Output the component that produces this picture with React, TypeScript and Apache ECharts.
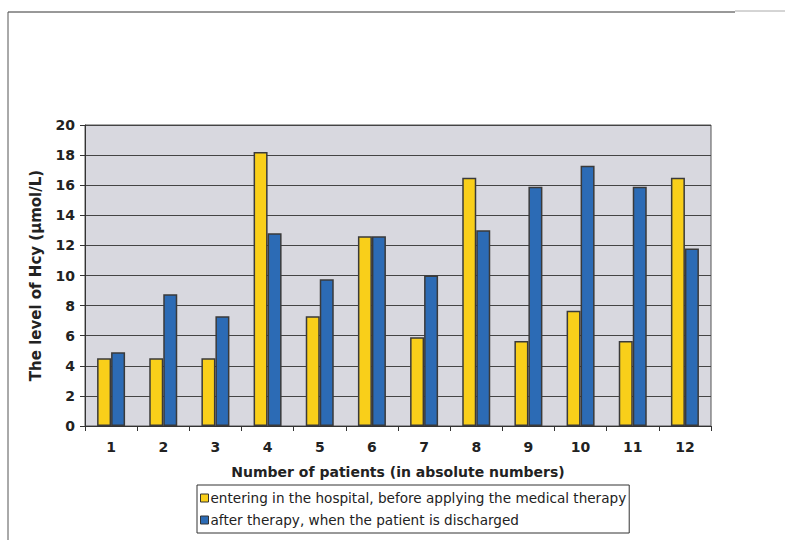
import React, { useEffect, useRef } from "react";
import * as echarts from "echarts";

const categories = ["1", "2", "3", "4", "5", "6", "7", "8", "9", "10", "11", "12"];
const beforeTherapy = [4.5, 4.5, 4.5, 18.2, 7.3, 12.6, 5.9, 16.5, 5.65, 7.65, 5.65, 16.5];
const afterTherapy = [4.9, 8.75, 7.3, 12.8, 9.75, 12.6, 10.0, 13.0, 15.9, 17.3, 15.9, 11.8];
const seriesNames = [
  "entering in the hospital, before applying the medical therapy",
  "after therapy, when the patient is discharged",
];
const yTicks = { min: 0, max: 20, interval: 2 };

export default function App() {
  const ref = useRef<HTMLDivElement>(null);
  useEffect(() => {
    if (!ref.current) return;
    const chart = echarts.init(ref.current, undefined, { renderer: "svg" });
    const font = "'DejaVu Sans', Arial, sans-serif";
    const barBorder = { borderColor: "#3a3a3a", borderWidth: 1.5 };
    chart.setOption({
      animation: false,
      backgroundColor: "#ffffff",
      textStyle: { fontFamily: font },
      graphic: [
        { type: "line", shape: { x1: 8, y1: 12, x2: 735, y2: 12 }, style: { stroke: "#333", lineWidth: 1 } },
        { type: "line", shape: { x1: 735, y1: 11, x2: 785, y2: 11 }, style: { stroke: "#aaa", lineWidth: 1 } },
        { type: "line", shape: { x1: 8, y1: 12, x2: 8, y2: 540 }, style: { stroke: "#555", lineWidth: 1 } },
      ],
      grid: {
        left: 85,
        top: 125,
        width: 626,
        height: 301,
        show: true,
        backgroundColor: "#d8d8df",
        borderColor: "#555",
        borderWidth: 1,
      },
      legend: {
        orient: "vertical",
        left: 197,
        top: 485,
        itemWidth: 8,
        itemHeight: 8,
        itemGap: 8,
        padding: [6, 3, 6, 3],
        borderColor: "#333",
        borderWidth: 1,
        backgroundColor: "#ffffff",
        icon: "rect",
        textStyle: { fontFamily: font, fontSize: 13.6, color: "#222", padding: [0, 0, 0, -3] },
        data: [
          { name: seriesNames[0], itemStyle: { color: "#f9cf1a", borderColor: "#333", borderWidth: 1 } },
          { name: seriesNames[1], itemStyle: { color: "#2c6bb5", borderColor: "#333", borderWidth: 1 } },
        ],
      },
      xAxis: {
        type: "category",
        data: categories,
        name: "Number of patients (in absolute numbers)",
        nameLocation: "middle",
        nameGap: 39,
        nameTextStyle: { fontFamily: font, fontSize: 14, fontWeight: "bold", color: "#222" },
        axisLine: { lineStyle: { color: "#333", width: 1 } },
        axisTick: { show: true, length: 5, inside: false, lineStyle: { color: "#333" } },
        axisLabel: { margin: 14, fontFamily: font, fontSize: 14, fontWeight: "bold", color: "#222" },
      },
      yAxis: {
        type: "value",
        min: yTicks.min,
        max: yTicks.max,
        interval: yTicks.interval,
        name: "The level of Hcy (\u00b5mol/L)",
        nameLocation: "middle",
        nameRotate: 90,
        nameGap: 42,
        nameTextStyle: { fontFamily: font, fontSize: 15, fontWeight: "bold", color: "#222" },
        axisLine: { show: true, lineStyle: { color: "#333", width: 1 } },
        axisTick: { show: true, length: 5, lineStyle: { color: "#333" } },
        axisLabel: { margin: 10, fontFamily: font, fontSize: 14, fontWeight: "bold", color: "#222" },
        splitLine: { show: true, lineStyle: { color: "#444", width: 1 } },
      },
      series: [
        {
          name: seriesNames[0],
          type: "bar",
          data: beforeTherapy,
          barWidth: 14,
          barGap: "0%",
          itemStyle: { color: "#f9cf1a", ...barBorder },
        },
        {
          name: seriesNames[1],
          type: "bar",
          data: afterTherapy,
          barWidth: 14,
          barGap: "0%",
          itemStyle: { color: "#2c6bb5", ...barBorder },
        },
      ],
    });
    return () => chart.dispose();
  }, []);
  return <div ref={ref} style={{ width: 785, height: 540, position: "absolute", left: 0, top: 0 }} />;
}
